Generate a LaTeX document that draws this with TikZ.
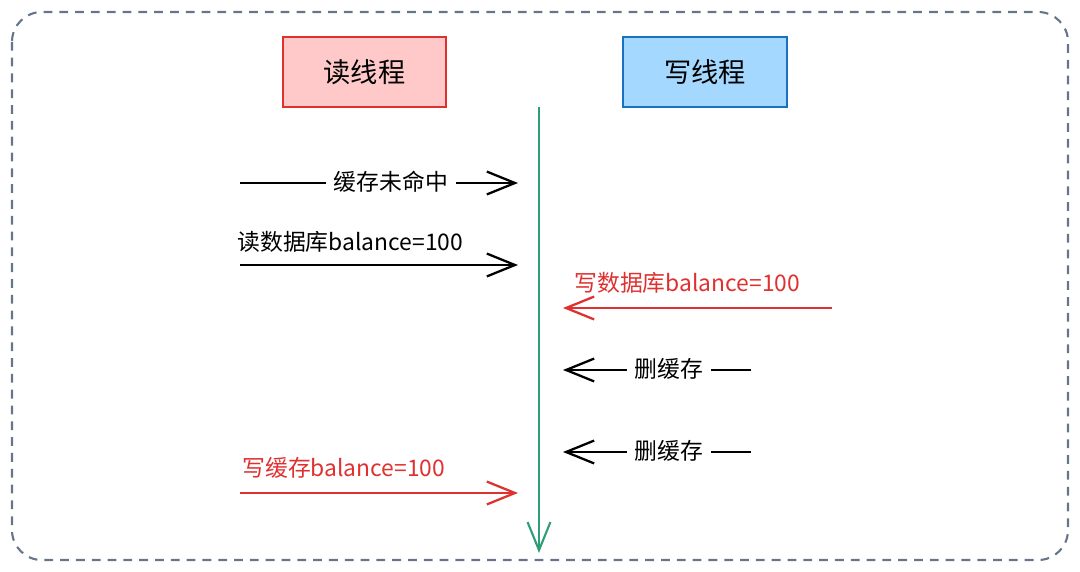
\documentclass[tikz,border=0pt]{standalone}
\usepackage{fontspec}
\setmainfont{Noto Sans CJK SC}
\usetikzlibrary{arrows.meta}
\definecolor{myred}{HTML}{E03131}
\definecolor{redfill}{HTML}{FFC9C9}
\definecolor{myblue}{HTML}{1971C2}
\definecolor{bluefill}{HTML}{A5D8FF}
\definecolor{mygreen}{HTML}{2F9E77}
\definecolor{slate}{HTML}{66758C}
\tikzset{
  thread/.style={draw, line width=1.1pt, minimum width=93pt, minimum height=39.5pt, inner sep=0pt, font=\fontsize{15.5}{18}\selectfont},
  msg/.style={line width=1.3pt, -{Straight Barb[length=16pt,width=13pt,line width=1.3pt]}},
  lbl/.style={inner sep=0pt, font=\fontsize{13}{15}\selectfont},
  midlbl/.style={lbl, fill=white, inner xsep=4.5pt, inner ysep=2pt},
}
\begin{document}
\begin{tikzpicture}[x=0.02cm,y=-0.02cm]
\useasboundingbox (0,0) rectangle (1080,572);
\draw[slate, line width=1.2pt, dash pattern=on 5pt off 4pt, rounded corners=17pt] (12,12) rectangle (1068,560);
\node[thread, draw=myred, fill=redfill] (rt) at (364.5,72) {读线程};
\node[thread, draw=myblue, fill=bluefill] (wt) at (705,72) {写线程};
\coordinate (tlTop) at (539,107);
\coordinate (tlBot) at (539,553);
\draw[mygreen, line width=1.2pt, -{Straight Barb[length=16pt,width=13pt,line width=1.2pt]}] (tlTop) -- (tlBot);
% 1
\coordinate (a1s) at (240,183);
\coordinate (a1e) at (518,183);
\draw[msg] (a1s) -- (a1e);
\node[midlbl] (l1) at (391,182) {缓存未命中};
% 2
\coordinate (a2s) at (240,265);
\coordinate (a2e) at (518,265);
\draw[msg] (a2s) -- (a2e);
\node[lbl, anchor=west] (l2) at (237,242) {读数据库balance=100};
% 3
\coordinate (a3s) at (832,308);
\coordinate (a3e) at (563,308);
\draw[msg, myred] (a3s) -- (a3e);
\node[lbl, anchor=west, text=myred] (l3) at (574,283) {写数据库balance=100};
% 4
\coordinate (a4s) at (751,370);
\coordinate (a4e) at (563,370);
\draw[msg] (a4s) -- (a4e);
\node[midlbl] (l4) at (669,369) {删缓存};
% 5
\coordinate (a5s) at (751,452);
\coordinate (a5e) at (563,452);
\draw[msg] (a5s) -- (a5e);
\node[midlbl] (l5) at (669,451) {删缓存};
% 6
\coordinate (a6s) at (240,493);
\coordinate (a6e) at (518,493);
\draw[msg, myred] (a6s) -- (a6e);
\node[lbl, anchor=west, text=myred] (l6) at (242,468) {写缓存balance=100};
\end{tikzpicture}
\end{document}
